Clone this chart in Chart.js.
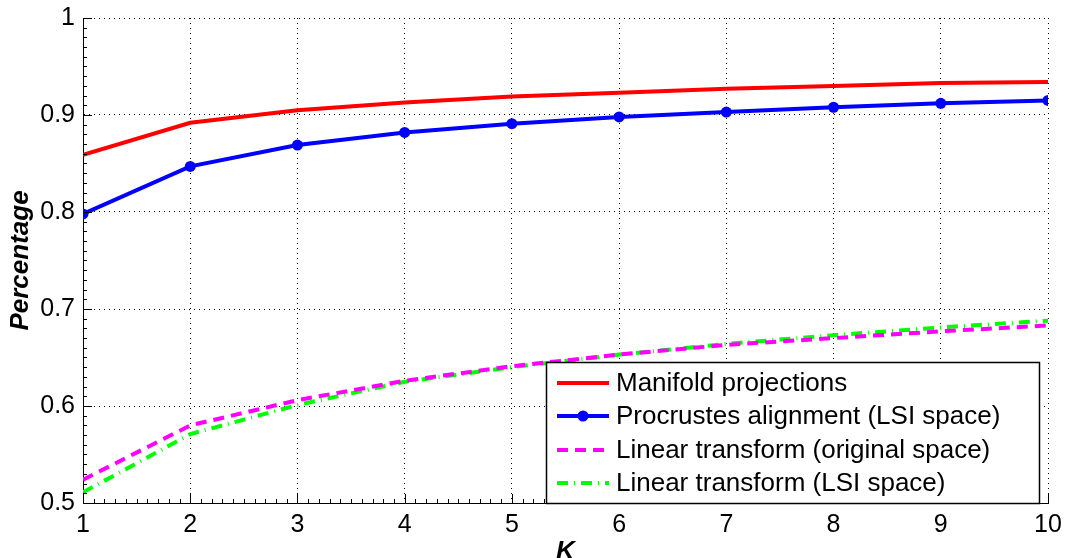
<!DOCTYPE html>
<html lang="en">
<head>
<meta charset="UTF-8">
<title>Percentage vs K</title>
<script src="https://cdn.jsdelivr.net/npm/chart.js"></script>
<style>
  html, body { margin: 0; padding: 0; background: #fff; }
  #wrap { width: 1065px; height: 558px; position: relative; }
</style>
</head>
<body>
<div id="wrap"><canvas id="kChart" width="1065" height="558"></canvas></div>
<script>
// values
const kValues = [1, 2, 3, 4, 5, 6, 7, 8, 9, 10];
const manifold = [0.859, 0.892, 0.905, 0.913, 0.919, 0.923, 0.927, 0.930, 0.933, 0.934];
const procrustes = [0.798, 0.847, 0.869, 0.882, 0.891, 0.898, 0.903, 0.908, 0.912, 0.915];
const linearOrig = [0.524, 0.580, 0.606, 0.626, 0.641, 0.653, 0.663, 0.670, 0.677, 0.683];
const linearLSI = [0.511, 0.571, 0.601, 0.625, 0.640, 0.653, 0.664, 0.673, 0.681, 0.688];
const seriesNames = ['Manifold projections', 'Procrustes alignment (LSI space)',
  'Linear transform (original space)', 'Linear transform (LSI space)'];
const yTicks = [0.5, 0.6, 0.7, 0.8, 0.9, 1];

const FONT = 'Arial, "Liberation Sans", Helvetica, sans-serif';

function toPoints(arr) {
  return kValues.map((k, i) => ({ x: k, y: arr[i] }));
}

// inward tick marks like the matlab axes
const axisTicks = {
  id: 'axisTicks',
  afterDatasetsDraw(chart) {
    const { ctx, chartArea: a, scales: { x, y } } = chart;
    ctx.save();
    ctx.strokeStyle = '#000';
    ctx.lineWidth = 1;
    ctx.beginPath();
    for (let v = 1; v <= 10.0001; v += 0.1) {
      const px = Math.round(x.getPixelForValue(v)) + 0.5;
      const major = Math.abs(v - Math.round(v)) < 0.001;
      ctx.moveTo(px, a.bottom);
      ctx.lineTo(px, a.bottom - (major ? 9 : 4));
    }
    for (let v = 0.5; v <= 1.0001; v += 0.01) {
      const py = Math.round(y.getPixelForValue(v)) + 0.5;
      const major = Math.abs(v * 10 - Math.round(v * 10)) < 0.001;
      ctx.moveTo(a.left, py);
      ctx.lineTo(a.left + (major ? 9 : 4), py);
    }
    ctx.stroke();
    ctx.restore();
  }
};

// legend box in the lower right corner of the axes
const boxLegend = {
  id: 'boxLegend',
  afterDraw(chart) {
    const { ctx, chartArea: a } = chart;
    const left = 546, top = 362, right = a.right - 9, bottom = a.bottom;
    ctx.save();
    ctx.fillStyle = '#fff';
    ctx.fillRect(left, top, right - left, bottom - top);
    ctx.strokeStyle = '#000';
    ctx.lineWidth = 1.5;
    ctx.strokeRect(left + 0.5, top + 0.5, right - left, bottom - top);
    ctx.font = '26px ' + FONT;
    ctx.textBaseline = 'middle';
    ctx.fillStyle = '#000';
    const rows = [383, 416, 450, 483];
    chart.data.datasets.forEach((ds, i) => {
      const yy = rows[i];
      ctx.beginPath();
      ctx.strokeStyle = ds.borderColor;
      ctx.lineWidth = ds.borderWidth;
      ctx.setLineDash(ds.borderDash || []);
      ctx.moveTo(557, yy);
      ctx.lineTo(609, yy);
      ctx.stroke();
      ctx.setLineDash([]);
      if (ds.pointRadius > 0) {
        ctx.beginPath();
        ctx.fillStyle = ds.borderColor;
        ctx.arc(583, yy, ds.pointRadius, 0, Math.PI * 2);
        ctx.fill();
      }
      ctx.fillStyle = '#000';
      ctx.fillText(ds.label, 616, yy + 1);
    });
    ctx.restore();
  }
};

const ctx = document.getElementById('kChart').getContext('2d');
new Chart(ctx, {
  type: 'line',
  data: {
    datasets: [
      {
        label: seriesNames[0],
        data: toPoints(manifold),
        borderColor: '#ff0000',
        borderWidth: 4,
        pointRadius: 0
      },
      {
        label: seriesNames[1],
        data: toPoints(procrustes),
        borderColor: '#0000ff',
        backgroundColor: '#0000ff',
        borderWidth: 4,
        pointRadius: 5.5,
        pointBorderWidth: 0
      },
      {
        label: seriesNames[2],
        data: toPoints(linearOrig),
        borderColor: '#ff00ff',
        borderWidth: 4,
        borderDash: [11, 7],
        pointRadius: 0
      },
      {
        label: seriesNames[3],
        data: toPoints(linearLSI),
        borderColor: '#00ff00',
        borderWidth: 4,
        borderDash: [11, 6, 1, 6],
        pointRadius: 0
      }
    ]
  },
  plugins: [axisTicks, boxLegend],
  options: {
    responsive: false,
    animation: false,
    layout: { padding: { top: 18, right: 17, left: 0, bottom: 0 } },
    plugins: {
      legend: { display: false },
      tooltip: { enabled: false }
    },
    elements: { line: { tension: 0, borderCapStyle: 'butt' } },
    scales: {
      x: {
        type: 'linear',
        min: 1,
        max: 10,
        afterFit(scale) {
          scale.height = 55;
          scale.paddingLeft = 0;
          scale.paddingRight = 0;
        },
        ticks: {
          stepSize: 1,
          padding: 7,
          color: '#000',
          font: { family: FONT, size: 25 },
          maxRotation: 0
        },
        grid: { color: '#000', drawTicks: false },
        border: { display: true, color: '#000', width: 1, dash: [1, 4] },
        title: {
          display: true,
          text: 'K',
          color: '#000',
          font: { family: FONT, size: 26, weight: 'bold', style: 'italic' },
          padding: { top: 0, bottom: -9 }
        }
      },
      y: {
        min: 0.5,
        max: 1,
        afterFit(scale) {
          scale.width = 83;
          scale.paddingTop = 0;
          scale.paddingBottom = 0;
        },
        afterBuildTicks(scale) { scale.ticks = yTicks.map(v => ({ value: v })); },
        ticks: {
          padding: 8,
          color: '#000',
          font: { family: FONT, size: 25 },
          callback: v => String(v)
        },
        grid: { color: '#000', drawTicks: false },
        border: { display: true, color: '#000', width: 1, dash: [1, 4] },
        title: {
          display: true,
          text: 'Percentage',
          color: '#000',
          font: { family: FONT, size: 26, weight: 'bold', style: 'italic' },
          padding: { top: 5, bottom: 0 }
        }
      }
    }
  }
});
</script>
</body>
</html>
